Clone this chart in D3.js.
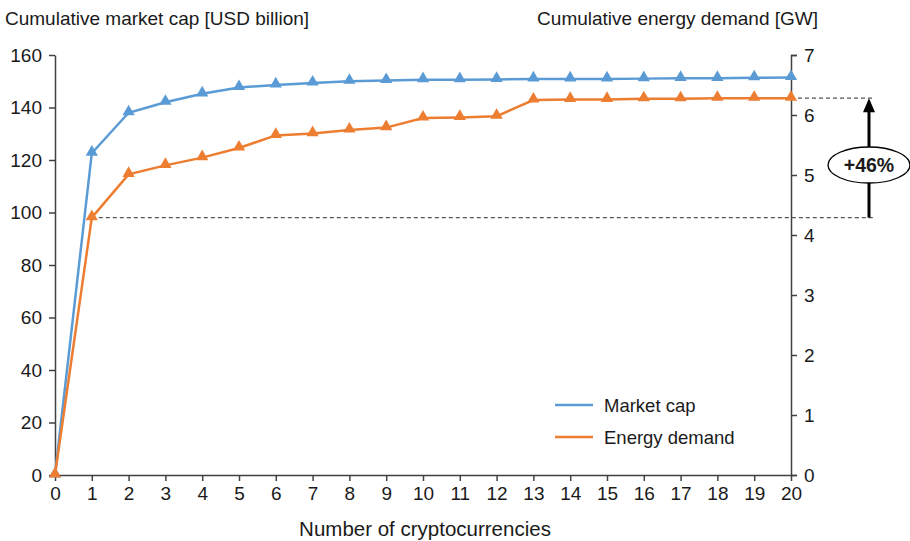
<!DOCTYPE html>
<html>
<head>
<meta charset="utf-8">
<script src="https://cdn.jsdelivr.net/npm/d3@7"></script>
<style>
  body { margin: 0; background: #fff; }
  svg text { font-family: "Liberation Sans", Arial, sans-serif; fill: #1a1a1a; }
</style>
</head>
<body>
<div id="chart"></div>
<script>
// number of cryptocurrencies
const counts = d3.range(0, 21);
// cumulative market cap, USD billion (left axis)
const marketCap = [0, 122.6, 138, 142, 145.2, 147.6, 148.6, 149.3, 150, 150.3, 150.6, 150.6, 150.7,
  150.9, 150.9, 150.9, 151, 151.1, 151.1, 151.3, 151.4];
// cumulative energy demand, GW (right axis)
const energyDemand = [0, 4.29, 5.01, 5.16, 5.29, 5.45, 5.66, 5.69, 5.75, 5.79, 5.95, 5.96, 5.98,
  6.25, 6.26, 6.26, 6.27, 6.27, 6.28, 6.28, 6.28];
const leftTicks = [0, 20, 40, 60, 80, 100, 120, 140, 160];
const rightTicks = [0, 1, 2, 3, 4, 5, 6, 7];
const seriesNames = ['Market cap', 'Energy demand'];
const annotationLabel = '+46%';

const width = 910, height = 541;
const blue = '#5b9bd5', orange = '#ed7d31', axisColor = '#404040';

const svg = d3.select('#chart')
  .append('svg')
  .attr('width', width)
  .attr('height', height);

const x = d3.scaleLinear().domain([0, 20]).range([55, 791]);
const yL = d3.scaleLinear().domain([0, 160]).range([475, 55]);
const yR = d3.scaleLinear().domain([0, 7]).range([475, 55]);

// axes
function styleAxis(g) {
  g.selectAll('path, line').attr('stroke', axisColor).attr('stroke-width', 1.5);
  g.selectAll('text').style('font-size', '19px').attr('fill', '#1a1a1a');
}

svg.append('g')
  .attr('transform', `translate(${x(0)},0)`)
  .call(d3.axisLeft(yL).tickValues(leftTicks).tickSize(6).tickSizeOuter(0).tickPadding(7))
  .call(styleAxis);

svg.append('g')
  .attr('transform', `translate(${x(20)},0)`)
  .call(d3.axisRight(yR).tickValues(rightTicks).tickFormat(d3.format('d'))
    .tickSize(6).tickSizeOuter(6).tickPadding(7))
  .call(styleAxis);

svg.append('g')
  .attr('transform', `translate(0,${yL(0)})`)
  .call(d3.axisBottom(x).tickValues(counts).tickSize(6).tickSizeOuter(0).tickPadding(6))
  .call(styleAxis);

// axis titles
svg.append('text')
  .attr('x', 5).attr('y', 25)
  .style('font-size', '19px')
  .text('Cumulative market cap [USD billion]');

svg.append('text')
  .attr('x', 818).attr('y', 25)
  .attr('text-anchor', 'end')
  .style('font-size', '19px')
  .text('Cumulative energy demand [GW]');

svg.append('text')
  .attr('x', 425).attr('y', 536)
  .attr('text-anchor', 'middle')
  .style('font-size', '20.5px')
  .text('Number of cryptocurrencies');

// dashed reference lines at first and last energy value
const eFirst = energyDemand[1], eLast = energyDemand[energyDemand.length - 1];
svg.append('line')
  .attr('x1', x(1)).attr('x2', 875)
  .attr('y1', yR(eFirst)).attr('y2', yR(eFirst))
  .attr('stroke', '#555').attr('stroke-width', 1.2).attr('stroke-dasharray', '4,3');
svg.append('line')
  .attr('x1', x(20)).attr('x2', 875)
  .attr('y1', yR(eLast)).attr('y2', yR(eLast))
  .attr('stroke', '#555').attr('stroke-width', 1.2).attr('stroke-dasharray', '4,3');

// series
const series = [
  { name: seriesNames[0], values: marketCap, y: yL, color: blue },
  { name: seriesNames[1], values: energyDemand, y: yR, color: orange }
];

series.forEach(s => {
  const line = d3.line()
    .x((d, i) => x(counts[i]))
    .y(d => s.y(d));

  svg.append('path')
    .datum(s.values)
    .attr('fill', 'none')
    .attr('stroke', s.color)
    .attr('stroke-width', 2.5)
    .attr('d', line);

  svg.append('g')
    .selectAll('path')
    .data(s.values)
    .join('path')
    .attr('d', d3.symbol(d3.symbolTriangle, 65))
    .attr('transform', (d, i) => `translate(${x(counts[i])},${s.y(d) - 1})`)
    .attr('fill', s.color);
});

// arrow with +46% label
const ax = 869;
svg.append('line')
  .attr('x1', ax).attr('x2', ax)
  .attr('y1', yR(eFirst)).attr('y2', yR(eLast) + 12)
  .attr('stroke', '#000').attr('stroke-width', 3);
svg.append('path')
  .attr('d', `M${ax - 6},${yR(eLast) + 14} L${ax},${yR(eLast)} L${ax + 6},${yR(eLast) + 14} Z`)
  .attr('fill', '#000');

svg.append('ellipse')
  .attr('cx', ax).attr('cy', 165)
  .attr('rx', 41).attr('ry', 18)
  .attr('fill', '#fff')
  .attr('stroke', '#000').attr('stroke-width', 1.3);
svg.append('text')
  .attr('x', ax).attr('y', 172)
  .attr('text-anchor', 'middle')
  .style('font-size', '19.5px')
  .style('font-weight', 'bold')
  .text(annotationLabel);

// legend
const legend = svg.append('g').attr('transform', 'translate(555,405)');
series.forEach((s, i) => {
  const g = legend.append('g').attr('transform', `translate(0,${i * 32})`);
  g.append('line')
    .attr('x1', 0).attr('x2', 38)
    .attr('stroke', s.color).attr('stroke-width', 2.5);
  g.append('text')
    .attr('x', 49).attr('y', 7)
    .style('font-size', '18.5px')
    .text(s.name);
});
</script>
</body>
</html>
